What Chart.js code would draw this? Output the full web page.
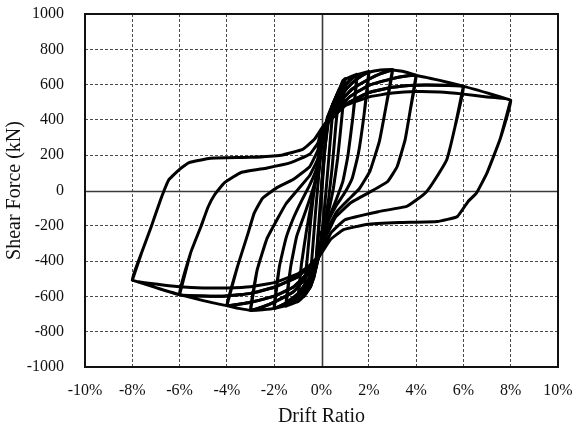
<!DOCTYPE html>
<html>
<head>
<meta charset="utf-8">
<title>Shear Force vs Drift Ratio</title>
<script src="https://cdn.jsdelivr.net/npm/chart.js@4.4.1/dist/chart.umd.min.js"></script>
<style>
  body { margin: 0; background: #fff; }
  #wrap { width: 581px; height: 433px; }
</style>
</head>
<body>
<div id="wrap"><canvas id="hysteresis" width="581" height="433"></canvas></div>
<script>
// drift amplitudes (%) of the loading steps
const amplitudes = [0.25, 0.5, 0.75, 1, 1.5, 2, 3, 4, 6, 8];

// axis ticks
const driftTicks = [-10, -8, -6, -4, -2, 0, 2, 4, 6, 8, 10];
const shearTicks = [-1000, -800, -600, -400, -200, 0, 200, 400, 600, 800, 1000];

// skeleton curve, [drift %, shear kN]
const envPos = [[0.25, 415], [0.5, 495], [0.75, 575], [0.9, 622], [1.0, 634], [1.5, 659], [2.0, 674],
  [2.5, 683], [3.0, 685], [3.5, 673], [4.0, 653], [5.0, 624], [6.0, 591], [7.0, 553], [8.0, 512]];
const envNeg = [[-0.25, -430], [-0.5, -550], [-0.75, -600], [-1.0, -630], [-1.5, -655], [-2.0, -668],
  [-2.5, -676], [-3.0, -680], [-3.5, -668], [-4.0, -652], [-5.0, -624], [-6.0, -590], [-7.0, -550], [-8.0, -508]];

// reloading towards + peak (repeat cycle)
const push025 = [[0, 0], [0.12, 210], [0.25, 415]];
const push05 = [[0, 20], [0.15, 250], [0.32, 420], [0.5, 495]];
const push075 = [[0, 240], [0.2, 370], [0.45, 480], [0.75, 572]];
const push1 = [[0, 290], [0.3, 420], [0.6, 525], [0.85, 595], [1.0, 630]];
const push15 = [[0, 310], [0.3, 415], [0.6, 505], [0.9, 575], [1.2, 625], [1.5, 655]];
const push2 = [[0, 320], [0.3, 405], [0.6, 485], [0.9, 550], [1.3, 610], [1.7, 650], [2.0, 670]];
const push3 = [[0, 330], [0.3, 395], [0.6, 460], [0.9, 520], [1.3, 575], [2.0, 630], [2.5, 662], [3.0, 682]];
const push4 = [[0, 340], [0.4, 410], [0.8, 475], [1.2, 532], [2.0, 596], [3.0, 634], [3.5, 647], [4.0, 652]];
const push6 = [[0, 345], [0.4, 402], [0.8, 458], [1.2, 502], [2.0, 555], [3.0, 585], [4.0, 597], [5.0, 597], [6.0, 590]];
const push8 = [[0, 350], [0.5, 438], [1.0, 482], [2.0, 530], [3.0, 552], [4.0, 561], [5.0, 558], [6.0, 546], [7.0, 530], [8.0, 512]];

// unloading from + peak
const drop025 = [[0.25, 415], [0.12, 190], [0, -30]];
const drop05 = [[0.5, 495], [0.38, 300], [0.25, 90], [0.12, -110], [0, -260]];
const drop075 = [[0.75, 575], [0.6, 360], [0.45, 130], [0.3, -50], [0.12, -200], [0, -290]];
const drop1 = [[1.0, 632], [0.85, 400], [0.68, 180], [0.5, 10], [0.3, -120], [0.1, -240], [0, -310]];
const drop15 = [[1.5, 658], [1.33, 420], [1.12, 200], [0.9, 50], [0.6, -60], [0.3, -160], [0.1, -260], [0, -320]];
const drop2 = [[2.0, 672], [1.8, 430], [1.56, 210], [1.3, 70], [0.95, -20], [0.6, -90], [0.3, -170], [0.1, -260], [0, -330]];
const drop3 = [[3.0, 684], [2.72, 470], [2.45, 280], [2.05, 110], [1.6, 10], [1.15, -50], [0.65, -120], [0.25, -220], [0, -340]];
const drop4 = [[4.0, 653], [3.76, 460], [3.54, 290], [3.2, 136], [2.8, 51], [2.1, -5], [1.25, -68], [0.6, -150], [0.2, -260], [0, -345]];
const drop6 = [[6.0, 591], [5.65, 364], [5.3, 176], [4.8, 62], [4.45, -5], [4.05, -50], [3.6, -90], [2.4, -120], [1.0, -165], [0.4, -240], [0, -350]];
const drop8 = [[8.0, 512], [7.55, 290], [7.0, 100], [6.55, -15], [6.2, -62], [5.74, -148], [4.9, -176], [3.3, -182], [1.9, -193], [0.93, -222], [0.38, -278], [0, -355]];

// reloading towards - peak (repeat cycle)
const pull025 = [[0, -30], [-0.12, -230], [-0.25, -430]];
const pull05 = [[0, -260], [-0.15, -380], [-0.32, -490], [-0.5, -550]];
const pull075 = [[0, -290], [-0.2, -420], [-0.45, -540], [-0.75, -600]];
const pull1 = [[0, -310], [-0.3, -450], [-0.6, -555], [-0.85, -610], [-1.0, -628]];
const pull15 = [[0, -320], [-0.3, -440], [-0.6, -535], [-1.0, -605], [-1.5, -652]];
const pull2 = [[0, -330], [-0.3, -435], [-0.6, -515], [-1.0, -585], [-1.5, -638], [-2.0, -668]];
const pull3 = [[0, -340], [-0.4, -440], [-0.8, -515], [-1.2, -575], [-2.0, -632], [-2.5, -660], [-3.0, -678]];
const pull4 = [[0, -345], [-0.4, -430], [-0.8, -498], [-1.2, -548], [-2.0, -598], [-3.0, -633], [-3.5, -645], [-4.0, -652]];
const pull6 = [[0, -350], [-0.5, -425], [-1.0, -488], [-2.0, -548], [-3.0, -583], [-4.0, -598], [-5.0, -598], [-6.0, -590]];
const pull8 = [[0, -355], [-0.5, -425], [-1.0, -472], [-2.0, -522], [-3.0, -545], [-4.0, -552], [-5.0, -553], [-6.0, -546], [-7.0, -530], [-8.0, -508]];

// unloading from - peak
const rise025 = [[-0.25, -430], [-0.12, -200], [0, 20]];
const rise05 = [[-0.5, -550], [-0.38, -340], [-0.25, -120], [-0.12, 80], [0, 240]];
const rise075 = [[-0.75, -600], [-0.6, -380], [-0.45, -160], [-0.3, 20], [-0.12, 180], [0, 290]];
const rise1 = [[-1.0, -628], [-0.85, -420], [-0.65, -240], [-0.45, -90], [-0.25, 50], [-0.08, 190], [0, 310]];
const rise15 = [[-1.5, -655], [-1.3, -430], [-1.05, -260], [-0.76, -150], [-0.5, -50], [-0.25, 60], [-0.08, 190], [0, 320]];
const rise2 = [[-2.0, -668], [-1.78, -430], [-1.5, -270], [-1.2, -160], [-0.85, -60], [-0.5, 30], [-0.2, 130], [0, 330]];
const rise3 = [[-3.0, -680], [-2.72, -450], [-2.3, -270], [-1.86, -160], [-1.5, -75], [-1.0, 5], [-0.5, 85], [-0.15, 180], [0, 340]];
const rise4 = [[-4.0, -652], [-3.55, -430], [-3.1, -240], [-2.85, -130], [-2.5, -45], [-1.9, 15], [-1.2, 62], [-0.5, 135], [-0.15, 230], [0, 340]];
const rise6 = [[-6.0, -590], [-5.53, -352], [-5.1, -205], [-4.8, -95], [-4.5, -20], [-4.1, 45], [-3.4, 102], [-2.3, 128], [-1.3, 158], [-0.5, 205], [-0.15, 270], [0, 345]];
const rise8 = [[-8.0, -508], [-7.6, -350], [-7.2, -205], [-6.8, -51], [-6.45, 62], [-6.0, 120], [-5.6, 158], [-4.7, 183], [-3.0, 188], [-1.7, 200], [-0.8, 233], [-0.3, 290], [0, 350]];

const pushes = [push025, push05, push075, push1, push15, push2, push3, push4, push6, push8];
const drops = [drop025, drop05, drop075, drop1, drop15, drop2, drop3, drop4, drop6, drop8];
const pulls = [pull025, pull05, pull075, pull1, pull15, pull2, pull3, pull4, pull6, pull8];
const rises = [rise025, rise05, rise075, rise1, rise15, rise2, rise3, rise4, rise6, rise8];

// Two cycles per amplitude: the first one reaches past the previous peak
// along the skeleton curve, the second one follows its own softer path.
function buildLoop(i) {
  const amp = amplitudes[i];
  let path = [];
  if (i === 0) {
    path = [...pushes[0], ...drops[0], ...pulls[0], ...rises[0]];
  } else {
    const prev = amplitudes[i - 1];
    path.push(...pushes[i - 1]);
    path.push(...envPos.filter(p => p[0] > prev && p[0] <= amp));
    path.push(...drops[i]);
    path.push(...pulls[i - 1].slice(1));
    path.push(...envNeg.filter(p => p[0] < -prev && p[0] >= -amp));
    path.push(...rises[i]);
  }
  path.push(...pushes[i].slice(1), ...drops[i].slice(1), ...pulls[i].slice(1), ...rises[i].slice(1));
  return path.map(([x, y]) => ({ x, y }));
}

const datasets = amplitudes.map((amp, i) => ({
  label: amp + "%",
  data: buildLoop(i),
  showLine: true,
  borderColor: "#000",
  borderWidth: 3,
  borderJoinStyle: "round",
  borderCapStyle: "round",
  pointRadius: 0,
  tension: 0.1,
}));

// solid zero lines under the curves, frame on top
const axesFrame = {
  id: "axesFrame",
  beforeDatasetsDraw(chart) {
    const { ctx, chartArea: a, scales } = chart;
    const x0 = Math.round(scales.x.getPixelForValue(0)) + 0.5;
    const y0 = Math.round(scales.y.getPixelForValue(0)) + 0.5;
    ctx.save();
    ctx.strokeStyle = "#3a3a3a";
    ctx.lineWidth = 1.6;
    ctx.beginPath();
    ctx.moveTo(x0, a.top);
    ctx.lineTo(x0, a.bottom);
    ctx.moveTo(a.left, y0);
    ctx.lineTo(a.right, y0);
    ctx.stroke();
    ctx.restore();
  },
  afterDraw(chart) {
    const { ctx, chartArea: a } = chart;
    ctx.save();
    ctx.strokeStyle = "#111";
    ctx.lineWidth = 2;
    ctx.strokeRect(a.left, a.top, a.right - a.left, a.bottom - a.top);
    ctx.restore();
  },
};

const serif = "'Liberation Serif', 'Times New Roman', serif";
const gridColor = (c) => (c.tick && c.tick.value === 0 ? "rgba(0,0,0,0)" : "#4a4a4a");

new Chart(document.getElementById("hysteresis"), {
  type: "scatter",
  data: { datasets },
  options: {
    responsive: false,
    animation: false,
    layout: { padding: { top: 14, right: 23, bottom: 0, left: 0 } },
    plugins: { legend: { display: false }, tooltip: { enabled: false } },
    scales: {
      x: {
        type: "linear",
        min: -10,
        max: 10,
        afterBuildTicks: (s) => { s.ticks = driftTicks.map(v => ({ value: v })); },
        afterFit: (s) => { s.height = 66; s.paddingLeft = 0; s.paddingRight = 0; },
        grid: { color: gridColor, lineWidth: 1, drawTicks: false },
        border: { display: false, dash: [3, 2] },
        ticks: {
          padding: 14,
          color: "#111",
          font: { family: serif, size: 16 },
          maxRotation: 0,
          callback: (v) => v + "%",
        },
        title: {
          display: true,
          text: "Drift Ratio",
          color: "#111",
          font: { family: serif, size: 20 },
          padding: { top: 0, bottom: 4 },
        },
      },
      y: {
        type: "linear",
        min: -1000,
        max: 1000,
        afterBuildTicks: (s) => { s.ticks = shearTicks.map(v => ({ value: v })); },
        afterFit: (s) => { s.width = 85; s.paddingTop = 0; s.paddingBottom = 0; },
        grid: { color: gridColor, lineWidth: 1, drawTicks: false },
        border: { display: false, dash: [3, 2] },
        ticks: {
          padding: 21,
          color: "#111",
          font: { family: serif, size: 16 },
          callback: (v) => String(v),
        },
        title: {
          display: true,
          text: "Shear Force (kN)",
          color: "#111",
          font: { family: serif, size: 20 },
          padding: { top: 3, bottom: 0 },
        },
      },
    },
  },
  plugins: [axesFrame],
});
</script>
</body>
</html>
